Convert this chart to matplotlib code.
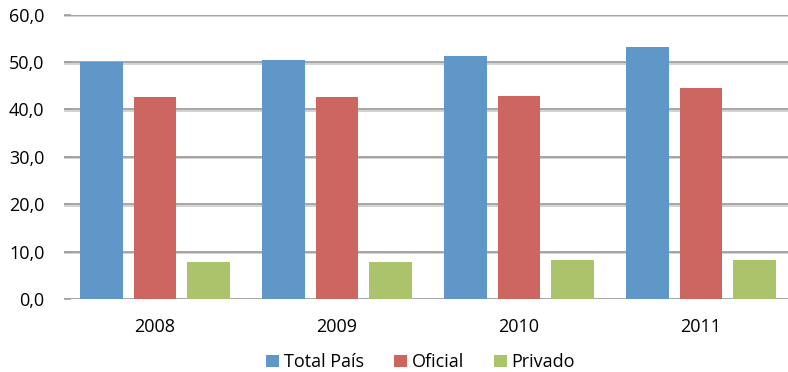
import numpy as np
import matplotlib.pyplot as plt
import matplotlib.patheffects as pe

years = ['2008', '2009', '2010', '2011']
total_pais = [50.0, 50.5, 51.3, 53.1]
oficial = [42.5, 42.5, 42.8, 44.6]
privado = [7.8, 7.8, 8.2, 8.2]

series = [
    ('Total País', total_pais, '#6097C9'),
    ('Oficial', oficial, '#CD6661'),
    ('Privado', privado, '#ABC46C'),
]

plt.rcParams['font.family'] = ['Open Sans', 'DejaVu Sans']

fig = plt.figure(figsize=(7.88, 3.72), dpi=100)
ax = fig.add_axes([64 / 788, 73 / 372, 728 / 788, 284.5 / 372])

x = np.arange(len(years))
width = 0.235
step = 0.295
for i, (name, vals, color) in enumerate(series):
    ax.bar(x + (i - 1) * step, vals, width, color=color, label=name, zorder=3)

ax.set_xlim(-0.5, 3.5)
ax.set_ylim(0, 60)
ax.set_yticks(np.arange(0, 61, 10))
ax.set_yticklabels([f'{v:.1f}'.replace('.', ',') for v in range(0, 61, 10)])
ax.set_xticks(x)
ax.set_xticklabels(years)

grid_col = '#9F9F9F'
shadow = [pe.SimpleLineShadow(offset=(0, -1.2), shadow_color='#cfcfcf', alpha=1), pe.Normal()]
for v in range(0, 61, 10):
    ax.axhline(v, color=grid_col, lw=1.3, zorder=1, path_effects=shadow)

for s in ax.spines.values():
    s.set_visible(False)

ax.tick_params(axis='y', direction='in', length=5, width=1.2, color=grid_col,
               pad=14, labelsize=13)
ax.tick_params(axis='x', length=0, pad=14, labelsize=13)

fig.legend(loc='center', bbox_to_anchor=(0.534, 0.026), ncol=3, frameon=False,
           fontsize=13, handlelength=0.7, handleheight=0.7, handletextpad=0.25,
           columnspacing=1.7, borderpad=0)

fig.savefig('out.png', dpi=100)
